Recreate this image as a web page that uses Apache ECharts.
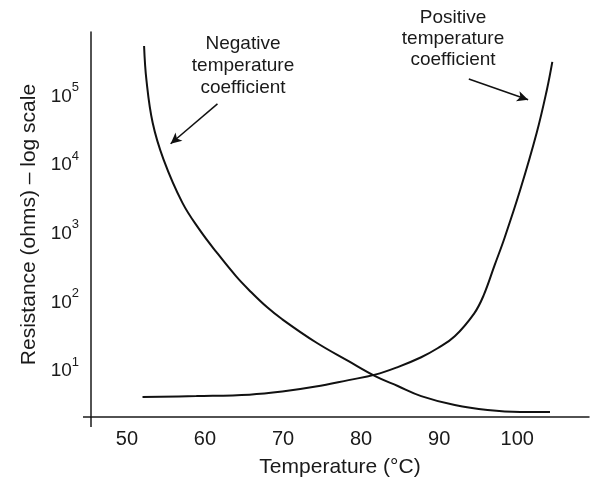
<!DOCTYPE html>
<html>
<head>
<meta charset="utf-8">
<script src="https://cdn.jsdelivr.net/npm/echarts@6/dist/echarts.min.js"></script>
<style>
  html, body { margin: 0; padding: 0; background: #fff; }
  #chart { width: 592px; height: 483px; }
</style>
</head>
<body>
<div id="chart"></div>
<script>
// NTC curve: temperature (°C) and resistance (ohms)
const ntcTemp = [52.2, 52.5, 53.3, 54.7, 57.1, 59.3, 61.5, 64.0, 65.7, 67.9, 69.9, 74.2, 78.4, 81.8, 84.7, 87.7, 92.0, 96.2, 100.4, 104.2];
const ntcRes = [540000, 173000, 41200, 12000, 2840, 1150, 536, 240, 150, 86.6, 57, 26.4, 14.0, 8.5, 6.1, 4.35, 3.22, 2.72, 2.55, 2.55];

// PTC curve
const ptcTemp = [52.0, 58.9, 65.7, 69.9, 74.2, 78.4, 81.8, 84.7, 87.7, 89.8, 92.0, 94.5, 95.7, 97.1, 98.4, 100.4, 102.5, 103.8, 104.5];
const ptcRes = [4.21, 4.35, 4.57, 5.06, 5.98, 7.43, 8.93, 11.5, 16.0, 21.6, 32.3, 69.7, 127, 347, 884, 4400, 29500, 124000, 317000];

// arrows: [from, to] as [temp, resistance]
const ntcArrow = [[61.6, 77600], [55.6, 20400]];
const ptcArrow = [[93.8, 179000], [101.4, 89000]];

const xTickLabels = [50, 60, 70, 80, 90, 100];

const font = "'Liberation Sans', Arial, sans-serif";
const ink = '#1a1a1a';

const zip = (a, b) => a.map((v, i) => [v, b[i]]);

const myChart = echarts.init(document.getElementById('chart'));
myChart.setOption({
  backgroundColor: '#fff',
  animation: false,
  textStyle: { fontFamily: font, color: ink },
  grid: { left: 91, right: 0, top: 32, bottom: 65 },
  xAxis: {
    type: 'value',
    min: 45.4,
    max: 109.2,
    minInterval: 10,
    maxInterval: 10,
    name: 'Temperature (°C)',
    nameLocation: 'middle',
    nameGap: 40,
    nameTextStyle: { fontSize: 21, color: ink, fontFamily: font },
    axisLine: { lineStyle: { color: ink, width: 1.5 } },
    axisTick: { show: false },
    splitLine: { show: false },
    axisLabel: {
      fontSize: 20,
      color: ink,
      margin: 12,
      fontFamily: font,
      formatter: (v) => (xTickLabels.indexOf(v) >= 0 ? String(v) : '')
    }
  },
  yAxis: {
    type: 'log',
    logBase: 10,
    min: 2.16,
    max: 863000,
    name: 'Resistance (ohms) – log scale',
    nameLocation: 'middle',
    nameGap: 50,
    nameTextStyle: { fontSize: 21, color: ink, fontFamily: font },
    axisLine: { lineStyle: { color: ink, width: 1.5 } },
    axisTick: { show: false },
    splitLine: { show: false },
    axisLabel: {
      margin: 12,
      color: ink,
      fontFamily: font,
      formatter: (v) => {
        const e = Math.round(Math.log10(v));
        if (Math.abs(Math.log10(v) - e) > 1e-6 || e < 1) return '';
        return '{b|10}{s|' + e + '}';
      },
      rich: {
        b: { fontSize: 19, color: ink, fontFamily: font },
        s: { fontSize: 13, color: ink, fontFamily: font, padding: [0, 0, 18, 0] }
      }
    }
  },
  graphic: [
    {
      type: 'text',
      x: 243,
      y: 33,
      style: {
        text: 'Negative\ntemperature\ncoefficient',
        align: 'center',
        textAlign: 'center',
        verticalAlign: 'top',
        font: '19px ' + font,
        fill: ink,
        lineHeight: 22
      }
    },
    {
      type: 'text',
      x: 453,
      y: 7,
      style: {
        text: 'Positive\ntemperature\ncoefficient',
        align: 'center',
        textAlign: 'center',
        verticalAlign: 'top',
        font: '19px ' + font,
        fill: ink,
        lineHeight: 21
      }
    }
  ],
  series: [
    {
      name: 'NTC',
      type: 'line',
      data: zip(ntcTemp, ntcRes),
      smooth: 0.4,
      showSymbol: false,
      lineStyle: { color: '#111', width: 2 },
      markLine: {
        silent: true,
        symbol: ['none', 'arrow'],
        symbolSize: [8, 11],
        label: { show: false },
        lineStyle: { color: '#111', width: 1.5, type: 'solid' },
        data: [
          [{ coord: ntcArrow[0] }, { coord: ntcArrow[1] }],
          [{ coord: ptcArrow[0] }, { coord: ptcArrow[1] }]
        ]
      }
    },
    {
      name: 'PTC',
      type: 'line',
      data: zip(ptcTemp, ptcRes),
      smooth: 0.4,
      showSymbol: false,
      lineStyle: { color: '#111', width: 2 }
    }
  ]
});

// the axes cross a little past the origin, as in the drawing
const origin = myChart.convertToPixel({ gridIndex: 0 }, [45.4, 2.16]);
myChart.setOption({
  graphic: [
    {
      id: 'xStub',
      type: 'line',
      shape: { x1: origin[0] - 8, y1: origin[1], x2: origin[0], y2: origin[1] },
      style: { stroke: ink, lineWidth: 1.5 }
    },
    {
      id: 'yStub',
      type: 'line',
      shape: { x1: origin[0], y1: origin[1], x2: origin[0], y2: origin[1] + 10 },
      style: { stroke: ink, lineWidth: 1.5 }
    }
  ]
});
</script>
</body>
</html>
